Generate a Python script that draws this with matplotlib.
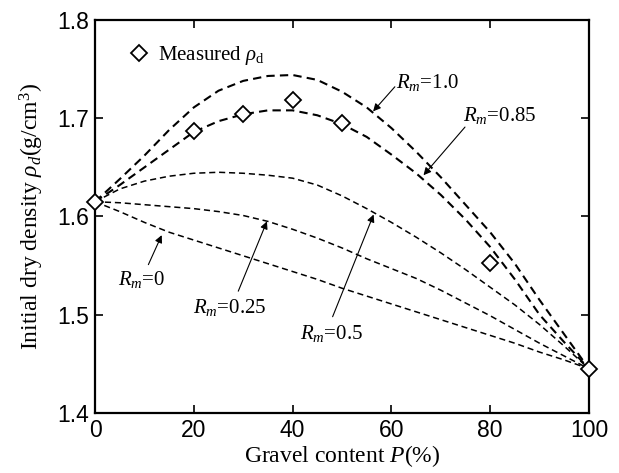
import matplotlib
matplotlib.use("Agg")
import matplotlib.pyplot as plt

plt.rcParams['font.family'] = ['Liberation Serif', 'DejaVu Serif']
plt.rcParams['mathtext.fontset'] = 'custom'
plt.rcParams['mathtext.rm'] = 'Liberation Serif'
plt.rcParams['mathtext.it'] = 'Liberation Serif:italic'

# gravel content (%) at which the curves were read
p_curve = [0, 5, 10, 15, 20, 25, 30, 35, 40, 45, 50,
           55, 60, 65, 70, 75, 80, 85, 90, 95, 100]

rm_10 = [1.615, 1.638, 1.662, 1.688, 1.711, 1.728, 1.738, 1.743, 1.744, 1.739, 1.727,
         1.711, 1.690, 1.666, 1.640, 1.612, 1.584, 1.552, 1.515, 1.480, 1.445]
rm_085 = [1.615, 1.632, 1.650, 1.668, 1.686, 1.697, 1.704, 1.708, 1.708, 1.703, 1.694,
          1.681, 1.663, 1.644, 1.622, 1.597, 1.569, 1.536, 1.500, 1.472, 1.445]
rm_05 = [1.615, 1.628, 1.636, 1.641, 1.644, 1.645, 1.644, 1.642, 1.639, 1.632, 1.621,
         1.608, 1.594, 1.579, 1.563, 1.546, 1.528, 1.510, 1.490, 1.468, 1.445]
rm_025 = [1.615, 1.614, 1.612, 1.610, 1.608, 1.605, 1.601, 1.595, 1.587, 1.578, 1.568,
          1.557, 1.547, 1.537, 1.525, 1.512, 1.499, 1.485, 1.471, 1.458, 1.445]
rm_0 = [1.615, 1.605, 1.594, 1.584, 1.576, 1.568, 1.560, 1.552, 1.544, 1.536, 1.527,
        1.519, 1.511, 1.503, 1.495, 1.487, 1.479, 1.471, 1.462, 1.454, 1.445]

# measured points
p_meas = [0, 20, 30, 40, 50, 80, 100]
rho_meas = [1.615, 1.687, 1.704, 1.719, 1.695, 1.553, 1.445]

x_ticks = [0, 20, 40, 60, 80, 100]
y_ticks = [1.4, 1.5, 1.6, 1.7, 1.8]

fig = plt.figure(figsize=(6.19, 4.73), dpi=100)
ax = fig.add_axes([0.1535, 0.1268, 0.798, 0.831])

# thick dashes for the upper two, thin dashes for the rest
ax.plot(p_curve, rm_10, color='black', lw=1.5, dashes=(4, 2.5))
ax.plot(p_curve, rm_085, color='black', lw=1.5, dashes=(4, 2.5))
ax.plot(p_curve, rm_05, color='black', lw=1.1, dashes=(4, 2.5))
ax.plot(p_curve, rm_025, color='black', lw=1.1, dashes=(4, 2.5))
ax.plot(p_curve, rm_0, color='black', lw=1.1, dashes=(4, 2.5))

ax.plot(p_meas, rho_meas, linestyle='none', marker='D', ms=8,
        mfc='white', mec='black', mew=1.3, clip_on=False, zorder=5,
        label=r'Measured $\rho_\mathrm{d}$')

leg = ax.legend(loc='upper left', bbox_to_anchor=(0.055, 0.96), frameon=False,
                handlelength=0.8, handletextpad=0.5, fontsize=15, borderaxespad=0)

# annotations (label, arrow tail, arrow tip, text position)
notes = [
    (r'$R_m$=1.0', (60.7, 1.732), (56.3, 1.707), (61.0, 1.736)),
    (r'$R_m$=0.85', (74.9, 1.691), (66.5, 1.642), (74.5, 1.703)),
    (r'$R_m$=0', (10.8, 1.551), (13.5, 1.581), (4.7, 1.536)),
    (r'$R_m$=0.25', (29.0, 1.524), (34.8, 1.595), (19.9, 1.507)),
    (r'$R_m$=0.5', (48.1, 1.498), (56.4, 1.602), (41.5, 1.481)),
]
for label, tail, tip, txt in notes:
    ax.annotate('', xy=tip, xytext=tail,
                arrowprops=dict(arrowstyle='-|>', color='black', lw=0.8,
                                mutation_scale=11, shrinkA=0, shrinkB=0))
    ax.text(txt[0], txt[1], label, fontsize=15, ha='left', va='center')

ax.set_xlim(0, 100)
ax.set_ylim(1.4, 1.8)
ax.set_xticks(x_ticks)
ax.set_yticks(y_ticks)
ax.set_xticklabels([str(v) for v in x_ticks], fontfamily='Liberation Sans', fontsize=16.5)
ax.set_yticklabels(['%.1f' % v for v in y_ticks], fontfamily='Liberation Sans', fontsize=16.5)
ax.tick_params(direction='in', length=6, width=1.2, top=True, right=True, pad=4)
for s in ax.spines.values():
    s.set_linewidth(1.6)

ax.set_xlabel(r'Gravel content $P$(%)', fontsize=17, labelpad=1)
ax.set_ylabel(r'Initial dry density $\rho_d$(g/cm$^3$)', fontsize=17, labelpad=8)

fig.savefig('out.png', dpi=100)
